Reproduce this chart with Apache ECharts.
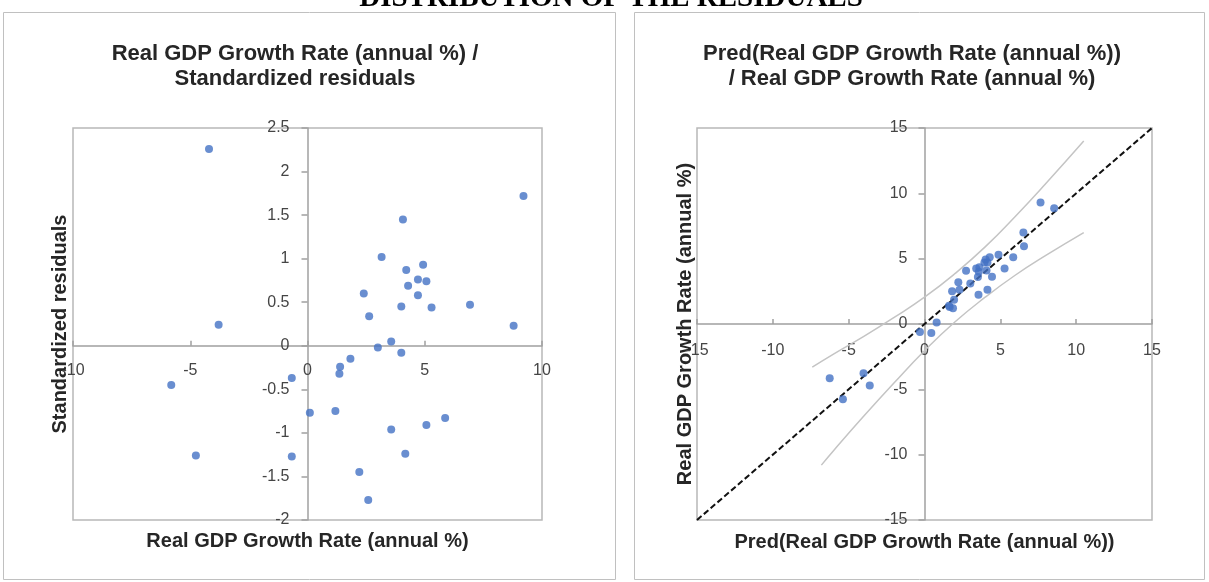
<!DOCTYPE html>
<html>
<head>
<meta charset="utf-8">
<script src="https://cdn.jsdelivr.net/npm/echarts@6/dist/echarts.min.js"></script>
<style>
html,body{margin:0;padding:0;background:#fff;}
#c{width:1209px;height:582px;}
</style>
</head>
<body>
<div id="c"></div>
<script>
// Left chart: Real GDP growth vs standardized residuals
const resX = [-4.2, 9.21, 4.07, 3.16, 4.93, 4.21, 4.71, 5.07, 4.29, 4.71, 2.4, 4.0, 5.29, 6.93, 2.63, -3.79, 8.79, 3.57, 3.0, 4.0, 1.83, 1.39, 1.36, -0.67, -5.81, 0.1, 1.19, 5.87, 5.07, 3.57, -4.76, -0.67, 4.17, 2.21, 2.59];
const resY = [2.26, 1.72, 1.45, 1.02, 0.93, 0.87, 0.76, 0.74, 0.69, 0.58, 0.60, 0.45, 0.44, 0.47, 0.34, 0.24, 0.23, 0.05, -0.02, -0.08, -0.15, -0.24, -0.32, -0.37, -0.45, -0.77, -0.75, -0.83, -0.91, -0.96, -1.26, -1.27, -1.24, -1.45, -1.77];
// Right chart: predicted vs real
const predX = [-6.25, 7.65, 2.74, 2.23, 4.03, 3.41, 3.95, 4.3, 3.62, 4.15, 1.82, 3.58, 4.88, 6.52, 2.31, -4.02, 8.55, 3.52, 3.02, 4.09, 1.95, 1.62, 1.66, -0.3, -5.38, 0.8, 1.88, 6.56, 5.85, 4.45, -3.61, 0.45, 5.28, 3.56, 4.15];
const realY = [-4.15, 9.3, 4.08, 3.2, 4.93, 4.25, 4.7, 5.1, 4.35, 4.71, 2.5, 4.0, 5.3, 7.0, 2.63, -3.77, 8.85, 3.6, 3.1, 4.1, 1.85, 1.4, 1.3, -0.62, -5.76, 0.12, 1.2, 5.95, 5.1, 3.62, -4.7, -0.68, 4.25, 2.23, 2.62];
// Confidence band curves
const upperX = [-7.4, -6, -4, -2, 0, 2, 4, 6, 8, 10.5];
const upperY = [-3.3, -2.3, -0.95, 0.5, 2.05, 3.85, 5.9, 8.25, 10.75, 14.0];
const lowerX = [-6.8, -6, -4, -2, 0, 2, 4, 6, 8, 10.5];
const lowerY = [-10.8, -9.7, -7.05, -4.5, -2.05, 0.15, 2.05, 3.75, 5.25, 7.0];
const diagX = [-15, 15];
const diagY = [-15, 15];
// Axis ranges / ticks
const leftXTicks = {min: -10, max: 10, interval: 5};
const leftYTicks = {min: -2, max: 2.5, interval: 0.5};
const rightTicks = {min: -15, max: 15, interval: 5};

const zip = (a, b) => a.map((v, i) => [v, b[i]]);

// grid boxes
const G0 = {left: 73, top: 128, width: 469, height: 392};
const G1 = {left: 697, top: 128, width: 455, height: 392};
// pixel distance from grid edge to the zero line of the crossing axis
const zeroFromLeft = (g, t) => g.width * (0 - t.min) / (t.max - t.min);
const zeroFromBottom = (g, t) => g.height * (0 - t.min) / (t.max - t.min);

const FONT = '"Liberation Sans", Arial, sans-serif';
const axisCommon = {
  axisLine: {onZero: false, lineStyle: {color: '#a0a0a0', width: 1.5}},
  splitLine: {show: false},
  axisLabel: {color: '#454545', fontSize: 16, fontFamily: FONT},
  nameLocation: 'middle',
  nameTextStyle: {color: '#262626', fontSize: 20, fontWeight: 'bold', fontFamily: FONT, backgroundColor: '#fff'}
};
function xAx(ticks, grid, gap, name, margin, off) {
  return Object.assign({}, axisCommon, {
    type: 'value', gridIndex: grid, position: 'bottom', offset: off, min: ticks.min, max: ticks.max, interval: ticks.interval,
    name: name, nameGap: gap,
    axisTick: {show: true, inside: true, length: 5, lineStyle: {color: '#a0a0a0', width: 1.5}},
    axisLabel: Object.assign({}, axisCommon.axisLabel, {margin: margin})
  });
}
function yAx(ticks, grid, gap, name, margin, off) {
  return Object.assign({}, axisCommon, {
    type: 'value', gridIndex: grid, position: 'left', offset: off, min: ticks.min, max: ticks.max, interval: ticks.interval,
    name: name, nameGap: gap, nameRotate: 90,
    axisTick: {show: true, inside: false, length: 6, lineStyle: {color: '#a0a0a0', width: 1.5}},
    axisLabel: Object.assign({}, axisCommon.axisLabel, {margin: margin})
  });
}

const chart = echarts.init(document.getElementById('c'), null, {renderer: 'canvas'});
chart.setOption({
  animation: false,
  backgroundColor: '#fff',
  title: [
    {text: 'Real GDP Growth Rate (annual %) /\nStandardized residuals', left: 295, top: 41, textAlign: 'center', padding: 0,
     textStyle: {fontSize: 22, fontWeight: 'bold', fontFamily: FONT, color: '#262626', lineHeight: 25}},
    {text: 'Pred(Real GDP Growth Rate (annual %))\n/ Real GDP Growth Rate (annual %)', left: 912, top: 41, textAlign: 'center', padding: 0,
     textStyle: {fontSize: 22, fontWeight: 'bold', fontFamily: FONT, color: '#262626', lineHeight: 25}}
  ],
  graphic: [
    {type: 'rect', shape: {x: 3.5, y: 12.5, width: 612, height: 567}, style: {fill: 'none', stroke: '#c0c0c0', lineWidth: 1}, z: -10},
    {type: 'rect', shape: {x: 634.5, y: 12.5, width: 570, height: 567}, style: {fill: 'none', stroke: '#c0c0c0', lineWidth: 1}, z: -10},
    {type: 'text', x: 611, y: -1, style: {text: 'DISTRIBUTION OF THE RESIDUALS', font: 'bold 29px "Liberation Serif", "Times New Roman", serif', fill: '#000', textAlign: 'center', textVerticalAlign: 'middle'}}
  ],
  grid: [
    Object.assign({show: true, borderColor: '#b8b8b8', borderWidth: 1.5, backgroundColor: 'transparent', outerBoundsMode: 'none'}, G0),
    Object.assign({show: true, borderColor: '#b8b8b8', borderWidth: 1.5, backgroundColor: 'transparent', outerBoundsMode: 'none'}, G1)
  ],
  xAxis: [
    xAx(leftXTicks, 0, 186, 'Real GDP Growth Rate (annual %)', 17, -zeroFromBottom(G0, leftYTicks)),
    xAx(rightTicks, 1, 208, 'Pred(Real GDP Growth Rate (annual %))', 19, -zeroFromBottom(G1, rightTicks))
  ],
  yAxis: [
    yAx(leftYTicks, 0, 237, 'Standardized residuals', 18, -zeroFromLeft(G0, leftXTicks)),
    yAx(rightTicks, 1, 229, 'Real GDP Growth Rate (annual %)', 17, -zeroFromLeft(G1, rightTicks))
  ],
  series: [
    {type: 'scatter', xAxisIndex: 0, yAxisIndex: 0, data: zip(resX, resY), symbolSize: 8, itemStyle: {color: '#4472C4'}, silent: true},
    {type: 'line', xAxisIndex: 1, yAxisIndex: 1, data: zip(upperX, upperY), smooth: true, symbol: 'none', lineStyle: {color: '#c4c4c4', width: 1.5}, silent: true},
    {type: 'line', xAxisIndex: 1, yAxisIndex: 1, data: zip(lowerX, lowerY), smooth: true, symbol: 'none', lineStyle: {color: '#c4c4c4', width: 1.5}, silent: true},
    {type: 'line', xAxisIndex: 1, yAxisIndex: 1, data: zip(diagX, diagY), symbol: 'none', lineStyle: {color: '#111', width: 2, type: [6, 3]}, silent: true, z: 3},
    {type: 'scatter', xAxisIndex: 1, yAxisIndex: 1, data: zip(predX, realY), symbolSize: 8, itemStyle: {color: '#4472C4'}, silent: true, z: 4}
  ]
});
</script>
</body>
</html>
